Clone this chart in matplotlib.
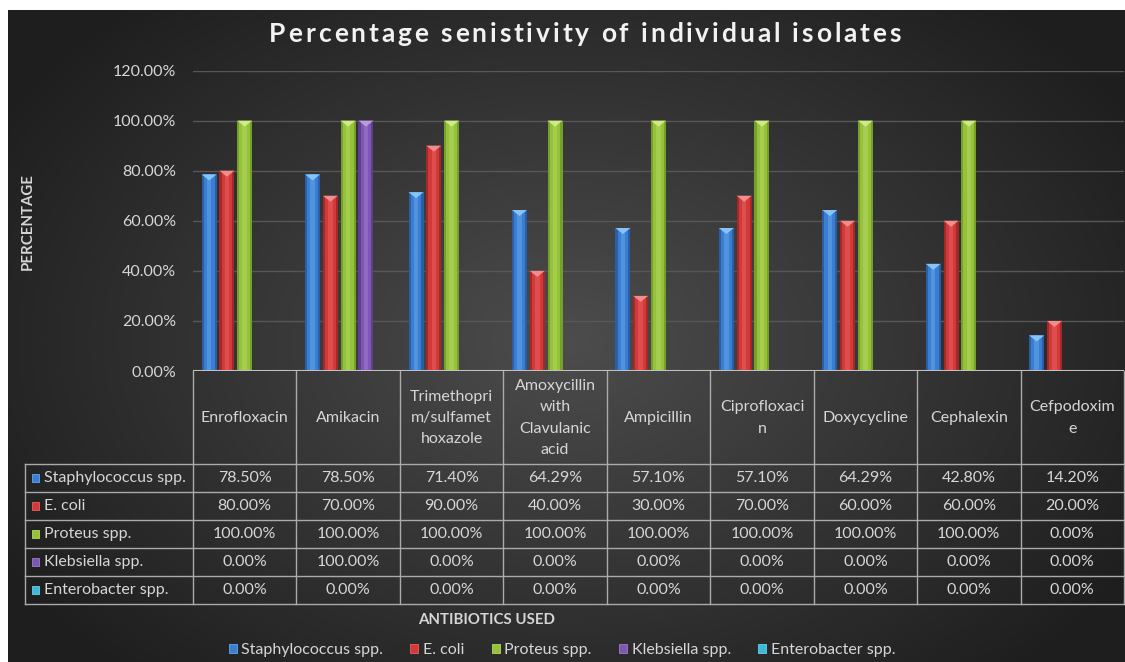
import numpy as np
import matplotlib
matplotlib.use("Agg")
import matplotlib.pyplot as plt
from matplotlib.patches import Patch, Polygon, Rectangle
from matplotlib.ticker import FuncFormatter

plt.rcParams['font.family'] = ['Lato', 'DejaVu Sans']

# --- data (percent) ---
antibiotics = ["Enrofloxacin", "Amikacin", "Trimethopri\nm/sulfamet\nhoxazole",
               "Amoxycillin\nwith\nClavulanic\nacid", "Ampicillin", "Ciprofloxaci\nn",
               "Doxycycline", "Cephalexin", "Cefpodoxim\ne"]
isolates = ["Staphylococcus spp.", "E. coli", "Proteus spp.", "Klebsiella spp.", "Enterobacter spp."]
staph = [78.50, 78.50, 71.40, 64.29, 57.10, 57.10, 64.29, 42.80, 14.20]
ecoli = [80.00, 70.00, 90.00, 40.00, 30.00, 70.00, 60.00, 60.00, 20.00]
proteus = [100.00, 100.00, 100.00, 100.00, 100.00, 100.00, 100.00, 100.00, 0.00]
klebsiella = [0.00, 100.00, 0.00, 0.00, 0.00, 0.00, 0.00, 0.00, 0.00]
enterobacter = [0.00, 0.00, 0.00, 0.00, 0.00, 0.00, 0.00, 0.00, 0.00]
series = [staph, ecoli, proteus, klebsiella, enterobacter]

# main, dark edge, highlight, top cap
colours = [
    ("#3b7dd0", "#2a5ea6", "#63a8ee", "#86c4f7"),
    ("#d23a3a", "#a52828", "#ea6060", "#f38c8c"),
    ("#95c13b", "#76a02a", "#b3da5e", "#cfeb86"),
    ("#7e57b1", "#5f3e8f", "#9c7bcf", "#b89be0"),
    ("#3db7da", "#2a8fb0", "#6ad0ec", "#95e2f5"),
]

W, H = 1125, 662
fig = plt.figure(figsize=(W / 100, H / 100), dpi=100, facecolor="white")


def fbox(x0, y0, x1, y1):
    # pixel box (top-left origin) -> figure rect
    return [x0 / W, 1 - y1 / H, (x1 - x0) / W, (y1 - y0) / H]


# background with radial gradient
bg = fig.add_axes(fbox(8, 10, W, H), zorder=-10)
yy, xx = np.mgrid[0:H - 10, 0:W - 8]
r = np.sqrt(((xx - 560) / 620.0) ** 2 + ((yy - 330) / 420.0) ** 2)
shade = np.clip(0.30 - 0.17 * r, 0.12, 0.30)
bg.imshow(np.dstack([shade] * 3), aspect="auto", interpolation="bilinear")
bg.axis("off")

txt = "#d6d6d6"
line_c = "#ababab"
fs = 11.5

# --- bar plot ---
plot_l, plot_r, plot_t, plot_b = 193, 1124, 70.5, 371
ax = fig.add_axes(fbox(plot_l, plot_t, plot_r, plot_b))
ax.set_facecolor("none")
x = np.arange(len(antibiotics))
slot = 0.172
bw = 0.145
for i, vals in enumerate(series):
    main, dark, light, cap = colours[i]
    xs = x + (i - 2) * slot
    v = np.array(vals)
    ax.bar(xs, v, width=bw, color=dark, linewidth=0, zorder=3)
    ax.bar(xs, v, width=bw * 0.72, color=main, linewidth=0, zorder=4)
    ax.bar(xs, v, width=bw * 0.3, color=light, alpha=0.55, linewidth=0, zorder=5)
    for xi, vi in zip(xs, v):
        if vi > 0:
            tri = Polygon([[xi - bw / 2, vi], [xi + bw / 2, vi], [xi, vi - 2.4]],
                          closed=True, color=cap, zorder=6, linewidth=0)
            ax.add_patch(tri)

ax.set_xlim(-0.5, len(antibiotics) - 0.5)
ax.set_ylim(0, 120)
ax.set_yticks(np.arange(0, 121, 20))
ax.yaxis.set_major_formatter(FuncFormatter(lambda v, p: f"{v:.2f}%"))
ax.tick_params(axis="y", length=0, pad=12, labelsize=fs, labelcolor=txt)
ax.set_xticks([])
ax.grid(axis="y", color="#575757", linewidth=1, zorder=0)
for s in ax.spines.values():
    s.set_visible(False)
ax.axhline(0, color="#c0c0c0", linewidth=1.5, zorder=7)

fig.text(28 / W, 1 - 222 / H, "PERCENTAGE", rotation=90, ha="center", va="center",
         color=txt, fontsize=10.8, fontweight="bold")

# title with Excel-like letter spacing
title = "Percentage senistivity of individual isolates"
renderer = fig.canvas.get_renderer()
tkw = dict(color="#f2f2f2", fontsize=19, fontweight="bold", va="center", ha="left")
probe = fig.text(0, 0, "|", **tkw)
bar_w = probe.get_window_extent(renderer).width
probe.remove()


def advance(s):
    t = fig.text(0, 0, s + "|", **tkw)
    w = t.get_window_extent(renderer).width - bar_w
    t.remove()
    return w


track = 2.9
total = advance(title) + track * (len(title) - 1)
x0 = 585 - total / 2
for i, ch in enumerate(title):
    if ch != " ":
        fig.text((x0 + advance(title[:i]) + track * i) / W, 1 - 34 / H, ch, **tkw)

# --- data table under the plot ---
header_h, row_h = 93, 28
tab_b = plot_b + header_h + row_h * len(isolates)
tx = fig.add_axes(fbox(plot_l, plot_b, plot_r, tab_b))
tx.set_xlim(-0.5, len(antibiotics) - 0.5)
tx.set_ylim(header_h + row_h * len(isolates), 0)
tx.axis("off")
col_w = (plot_r - plot_l) / len(antibiotics)
x_lab = -0.5 - (plot_l - 25) / col_w
y_bot = header_h + row_h * len(isolates)
lk = dict(color=line_c, linewidth=1, clip_on=False)

for k in range(len(antibiotics) + 1):
    tx.plot([k - 0.5, k - 0.5], [0, y_bot], **lk)
tx.plot([x_lab, x_lab], [header_h, y_bot], **lk)
for j in range(len(isolates) + 1):
    yl = header_h + j * row_h
    tx.plot([x_lab, len(antibiotics) - 0.5], [yl, yl], **lk)

for k, name in enumerate(antibiotics):
    tx.text(k, header_h / 2 + 0.5, name, ha="center", va="center", color=txt,
            fontsize=fs, linespacing=1.65)

for j, (name, vals) in enumerate(zip(isolates, series)):
    yc = header_h + (j + 0.5) * row_h
    main, dark, light, cap = colours[j]
    tx.add_patch(Rectangle((x_lab + 7 / col_w, yc - 4), 7 / col_w, 8, facecolor=main,
                           edgecolor=light, linewidth=0.6, clip_on=False))
    tx.text(x_lab + 19 / col_w, yc, name, ha="left", va="center", color=txt,
            fontsize=fs, clip_on=False)
    for k, v in enumerate(vals):
        tx.text(k, yc, f"{v:.2f}%", ha="center", va="center", color=txt, fontsize=fs)

fig.text(487 / W, 1 - 620 / H, "ANTIBIOTICS USED", ha="center", va="center",
         color=txt, fontsize=10.8, fontweight="bold")

handles = [Patch(facecolor=c[0], edgecolor=c[2], linewidth=0.6) for c in colours]
leg = fig.legend(handles, isolates, loc="center", bbox_to_anchor=(562 / W, 1 - 650 / H),
                 ncol=5, frameon=False, fontsize=fs, handlelength=0.5, handleheight=0.5,
                 handletextpad=0.3, columnspacing=1.7)
for t in leg.get_texts():
    t.set_color(txt)

fig.savefig("out.png", dpi=100, facecolor="white")
